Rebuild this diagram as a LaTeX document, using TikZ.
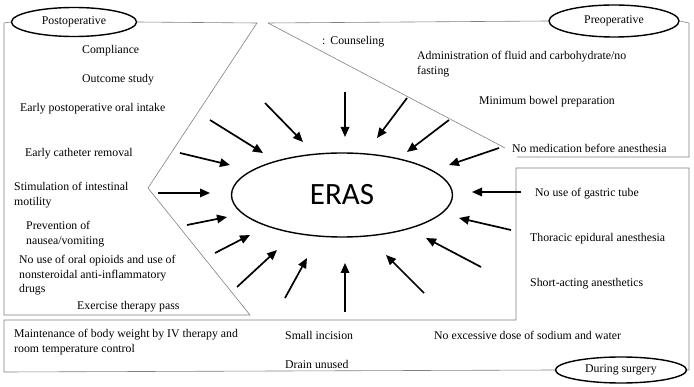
\documentclass[tikz,border=0pt]{standalone}
\usepackage{fontspec}
\setmainfont{Liberation Serif}
\newfontfamily\erasfont{Carlito}
\usetikzlibrary{arrows.meta,shapes.geometric}
\begin{document}
\begin{tikzpicture}[x=1pt,y=-1pt,
  frame/.style={draw=black!50, line width=0.6pt},
  tag/.style={draw, ellipse, line width=1.4pt, inner sep=0pt, font=\fontsize{11.8}{14}\selectfont},
  txt/.style={inner sep=0pt, anchor=west, yshift=-2pt, font=\fontsize{11.8}{14.6}\selectfont},
  blk/.style={inner sep=0pt, anchor=north west, yshift=-2pt, align=left, font=\fontsize{11.8}{14.6}\selectfont},
  arr/.style={line width=1.7pt, -{Triangle[length=10pt,width=8.5pt]}}]
\useasboundingbox (0,0) rectangle (694,387);
% group labels
\node[tag, minimum width=125pt, minimum height=29pt] (post) at (74,22) {Postoperative};
\node[tag, minimum width=130pt, minimum height=32pt] (pre) at (614,21) {Preoperative};
\node[tag, minimum width=131pt, minimum height=26pt] (dur) at (621,370) {During surgery};
\node[draw, ellipse, line width=1.4pt, minimum width=221pt, minimum height=84pt, inner sep=0pt,
      font=\erasfont\fontsize{31}{34}\selectfont] (eras) at (342,195) {ERAS};
% frames
\draw[frame] (post.east) -- (257,23) -- (148,188) -- (250,315) -- (4,315) -- (4,23) -- (post.west);
\draw[frame] (268,23) -- (pre.west);
\draw[frame] (pre.east) -- (689,23) -- (689,157) -- (517,157);
\draw[frame] (268,23) -- (505,148);
\draw[frame] (dur.west) -- (4,372) -- (4,320) -- (516,320) -- (516,168) -- (689,168) -- (689,370) -- (dur.east);
% postoperative texts
\node[txt] (t1) at (82,49) {Compliance};
\node[txt] (t2) at (82,78) {Outcome study};
\node[txt] (t3) at (20,107) {Early postoperative oral intake};
\node[txt] (t4) at (25,152) {Early catheter removal};
\node[blk] (t5) at (14,180) {Stimulation of intestinal\\motility};
\node[blk] (t6) at (26,219) {Prevention of\\nausea/vomiting};
\node[blk] (t7) at (19,253) {No use of oral opioids and use of\\nonsteroidal anti-inflammatory\\drugs};
\node[txt] (t8) at (77,305) {Exercise therapy pass};
% preoperative texts
\node[txt] (p1) at (322,40) {:\hspace{5pt}Counseling};
\node[blk] (p2) at (417,49) {Administration of fluid and carbohydrate/no\\fasting};
\node[txt] (p3) at (479,100) {Minimum bowel preparation};
\node[txt] (p4) at (512,146) {No medication before anesthesia};
% during surgery texts
\node[txt] (d1) at (535,192) {No use of gastric tube};
\node[txt] (d2) at (530,237) {Thoracic epidural anesthesia};
\node[txt] (d3) at (530,282) {Short-acting anesthetics};
\node[txt] (d4) at (434,333) {No excessive dose of sodium and water};
\node[txt] (d5) at (285,333) {Small incision};
\node[txt] (d6) at (285,362) {Drain unused};
\node[blk] (d7) at (14,327) {Maintenance of body weight by IV therapy and\\room temperature control};
% arrows
\foreach \n/\sx/\sy/\ex/\ey in {
  a1/345/92/345/137,
  a2/265/103/303/142,
  a3/210/120/263/153,
  a4/180/153/230/165,
  a5/158/193/210/193,
  a6/187/225/227/217,
  a7/215/253/250/235,
  a8/237/287/277/250,
  a9/285/298/307/258,
  a10/345/312/345/263,
  a11/407/98/377/138,
  a12/449/120/407/152,
  a13/499/148/449/165,
  a14/521/192/472/192,
  a15/511/230/459/218,
  a16/481/267/426/238,
  a17/424/293/386/255}{
  \coordinate (\n s) at (\sx,\sy);
  \coordinate (\n e) at (\ex,\ey);
  \draw[arr] (\n s) -- (\n e);
}
\end{tikzpicture}
\end{document}
